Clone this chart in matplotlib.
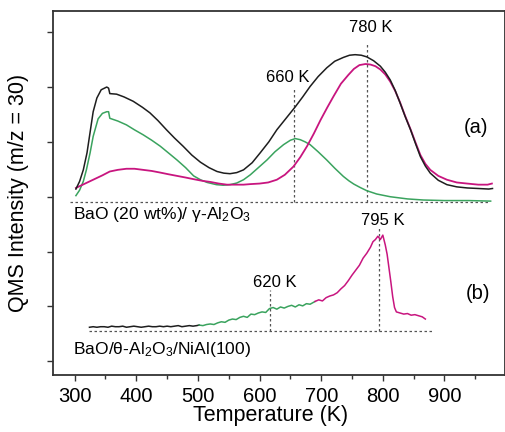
import matplotlib
matplotlib.use("Agg")
import matplotlib.pyplot as plt

plt.rcParams['font.family'] = ['Liberation Sans', 'DejaVu Sans']
plt.rcParams['mathtext.default'] = 'regular'

# ---- panel (a): BaO(20 wt%)/gamma-Al2O3 ----
a_black_T = [302, 308, 314, 320, 326, 330, 336, 343, 352, 355, 357, 368, 380, 395, 410, 422, 435, 449,
             462, 476, 490, 504, 518, 531, 542, 552, 563, 574, 588, 601, 615, 628, 643, 658, 670, 682,
             695, 709, 722, 736, 746, 755, 765, 774, 785, 796, 804, 812, 820, 828, 836, 845, 853, 861,
             869, 877, 890, 904, 920, 937, 955, 972, 978]
a_black_y = [3.14, 3.28, 3.49, 3.80, 4.25, 4.55, 4.80, 4.95, 5.00, 4.98, 4.88, 4.87, 4.82, 4.74, 4.63,
             4.53, 4.39, 4.22, 4.07, 3.92, 3.76, 3.63, 3.53, 3.46, 3.43, 3.42, 3.44, 3.49, 3.62, 3.80,
             4.00, 4.22, 4.43, 4.64, 4.82, 5.01, 5.19, 5.35, 5.47, 5.54, 5.58, 5.59, 5.58, 5.55, 5.48,
             5.38, 5.27, 5.13, 4.94, 4.71, 4.47, 4.22, 3.97, 3.73, 3.56, 3.43, 3.30, 3.22, 3.18, 3.16,
             3.15, 3.14, 3.15]

a_mag_T = [302, 315, 330, 345, 357, 370, 384, 397, 411, 425, 439, 452, 466, 480, 493, 507, 520, 534,
           547, 560, 574, 585, 600, 614, 628, 641, 655, 666, 677, 688, 699, 710, 720, 732, 744, 753,
           762, 772, 780, 788, 796, 804, 812, 820, 828, 836, 845, 853, 861, 869, 877, 890, 904, 920,
           937, 955, 970, 977]
a_mag_y = [3.16, 3.23, 3.31, 3.39, 3.46, 3.49, 3.51, 3.51, 3.49, 3.47, 3.44, 3.41, 3.38, 3.35, 3.32,
           3.29, 3.27, 3.24, 3.22, 3.22, 3.22, 3.23, 3.24, 3.26, 3.31, 3.40, 3.55, 3.72, 3.92, 4.15,
           4.40, 4.63, 4.83, 5.06, 5.22, 5.33, 5.40, 5.42, 5.41, 5.38, 5.32, 5.23, 5.10, 4.93, 4.72,
           4.48, 4.23, 3.99, 3.76, 3.60, 3.49, 3.38, 3.31, 3.26, 3.24, 3.22, 3.22, 3.24]

a_green_T = [302, 308, 314, 319, 325, 330, 338, 345, 352, 355, 357, 370, 384, 397, 411, 425, 439, 452,
             466, 480, 493, 504, 515, 530, 541, 552, 563, 574, 585, 597, 612, 625, 639, 650, 658, 666,
             674, 682, 695, 709, 722, 736, 745, 753, 763, 774, 790, 812, 840, 866, 900, 940, 975]
a_green_y = [3.02, 3.12, 3.28, 3.49, 3.80, 4.10, 4.42, 4.52, 4.55, 4.55, 4.43, 4.38, 4.31, 4.22, 4.13,
             4.03, 3.92, 3.80, 3.67, 3.53, 3.38, 3.31, 3.26, 3.22, 3.21, 3.22, 3.25, 3.31, 3.40, 3.52,
             3.67, 3.82, 3.95, 4.03, 4.06, 4.04, 4.00, 3.95, 3.82, 3.67, 3.52, 3.37, 3.29, 3.23, 3.17,
             3.11, 3.05, 3.00, 2.96, 2.94, 2.93, 2.93, 2.92]

# ---- panel (b): BaO/theta-Al2O3/NiAl(100) ----
b_black_T = [324, 330, 336, 342, 348, 354, 360, 366, 372, 378, 384, 390, 396, 402, 408, 414, 420, 426,
             432, 438, 444, 450, 456, 462, 468, 474, 480, 486, 492, 498, 502]
b_black_y = [0.62, 0.63, 0.62, 0.63, 0.63, 0.62, 0.64, 0.63, 0.63, 0.64, 0.62, 0.63, 0.64, 0.63, 0.62,
             0.63, 0.64, 0.63, 0.63, 0.64, 0.63, 0.64, 0.63, 0.64, 0.65, 0.63, 0.64, 0.65, 0.64, 0.65,
             0.66]
b_green_T = [502, 508, 514, 520, 526, 532, 538, 544, 550, 556, 562, 568, 574, 580, 586, 592, 598, 604,
             610, 616, 622, 628, 634, 640, 646, 652, 658, 664, 670, 676, 682, 690]
b_green_y = [0.66, 0.65, 0.67, 0.68, 0.67, 0.70, 0.72, 0.71, 0.75, 0.77, 0.76, 0.80, 0.82, 0.80, 0.86,
             0.85, 0.88, 0.90, 0.89, 0.96, 0.98, 0.95, 0.99, 0.97, 1.00, 1.02, 0.99, 1.03, 1.01, 1.05,
             1.04, 1.09]
b_mag_T = [690, 696, 702, 708, 714, 720, 726, 732, 738, 744, 750, 756, 762, 768, 774, 780, 784, 788,
           792, 796, 800, 804, 807, 810, 813, 816, 819, 822, 828, 834, 840, 846, 852, 858, 864, 869]
b_mag_y = [1.09, 1.12, 1.10, 1.16, 1.19, 1.21, 1.25, 1.32, 1.38, 1.47, 1.57, 1.66, 1.75, 1.88, 1.97,
           2.08, 2.18, 2.22, 2.28, 2.22, 2.30, 2.12, 1.95, 1.70, 1.45, 1.18, 0.98, 0.90, 0.88, 0.86,
           0.87, 0.84, 0.85, 0.83, 0.81, 0.77]

# baselines and peak markers
base_a = 2.90
base_a_range = [293, 974]
base_b = 0.558
base_b_range = [324, 882]
peak_labels = ['660 K', '780 K', '620 K', '795 K']
peak_T = [656, 774, 617, 794]
peak_top = [4.96, 5.83, 1.30, 2.43]
peak_base = [base_a, base_a, base_b, base_b]

x_major = [300, 400, 500, 600, 700, 800, 900]
x_minor = [350, 450, 550, 650, 750, 850, 950]
y_ticks = [0, 1, 2, 3, 4, 5, 6]

BLACK = '#1e1e1e'
GREEN = '#3aa35e'
MAG = '#c8157f'
DASH = '#555555'
SPINE = '#333333'

fig = plt.figure(figsize=(5.06, 4.32), dpi=100)
ax = fig.add_axes([0.1057, 0.132, 0.892, 0.843])

# baselines
ax.plot(base_a_range, [base_a, base_a], color=DASH, lw=0.9, ls=(0, (2, 2)))
ax.plot(base_b_range, [base_b, base_b], color=DASH, lw=0.9, ls=(0, (2, 2)))
for T, top, b in zip(peak_T, peak_top, peak_base):
    ax.plot([T, T], [b, top], color=DASH, lw=0.9, ls=(0, (2, 2)))

ax.plot(a_green_T, a_green_y, color=GREEN, lw=1.1)
ax.plot(a_mag_T, a_mag_y, color=MAG, lw=1.3)
ax.plot(a_black_T, a_black_y, color=BLACK, lw=1.1)

ax.plot(b_black_T, b_black_y, color=BLACK, lw=1.1)
ax.plot(b_green_T, b_green_y, color=GREEN, lw=1.1)
ax.plot(b_mag_T, b_mag_y, color=MAG, lw=1.1)

# peak labels
label_pos = [(645, 5.17), (781, 6.08), (624, 1.43), (800, 2.57)]
for lab, (x, y) in zip(peak_labels, label_pos):
    ax.text(x, y, lab, ha='center', va='center', fontsize=12)

ax.text(297, 2.67, 'BaO (20 wt%)/ γ-Al$_2$O$_3$', ha='left', va='center', fontsize=12.6)
ax.text(297, 0.21, 'BaO/θ-Al$_2$O$_3$/NiAl(100)', ha='left', va='center', fontsize=12.6)
ax.text(931, 4.26, '(a)', ha='left', va='center', fontsize=14.5)
ax.text(934, 1.24, '(b)', ha='left', va='center', fontsize=14.5)

ax.set_xlim(265.6, 998)
ax.set_ylim(-0.25, 6.39)
ax.set_xticks(x_major)
ax.set_xticks(x_minor, minor=True)
ax.set_yticks(y_ticks)
ax.set_yticklabels([])
ax.tick_params(axis='x', which='major', direction='out', length=4.5, width=1, labelsize=14.5, pad=4,
               color=SPINE)
ax.tick_params(axis='x', which='minor', direction='out', length=3, width=1, color=SPINE)
ax.tick_params(axis='y', direction='out', length=4, width=1, color=SPINE)
for s in ax.spines.values():
    s.set_linewidth(1.3)
    s.set_color(SPINE)

ax.set_xlabel('Temperature (K)', fontsize=15.5)
ax.xaxis.set_label_coords(0.48, -0.083)
ax.set_ylabel('QMS Intensity (m/z = 30)', fontsize=15.5, labelpad=10)

fig.savefig('out.png', dpi=100)
